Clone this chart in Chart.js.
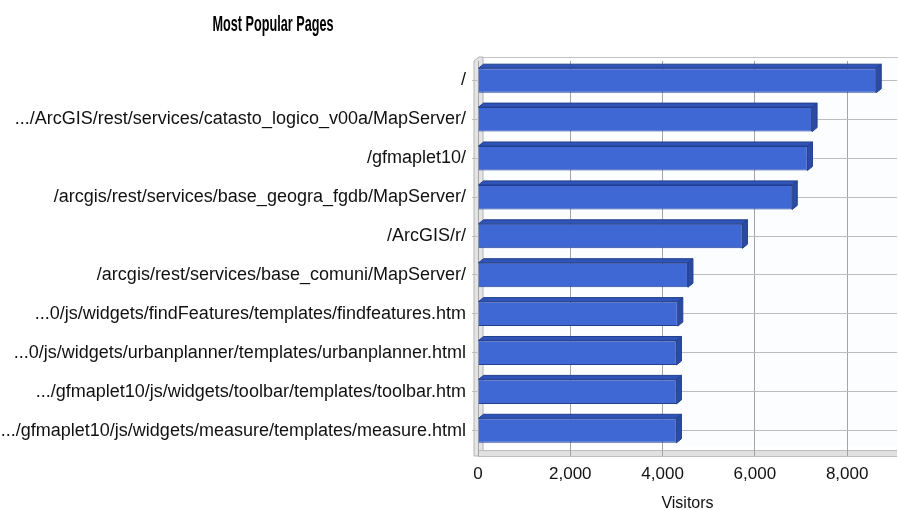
<!DOCTYPE html>
<html>
<head>
<meta charset="utf-8">
<title>Most Popular Pages</title>
<script src="https://cdn.jsdelivr.net/npm/chart.js@4.4.1/dist/chart.umd.min.js"></script>
<style>
  html, body { margin: 0; padding: 0; background: #fff; overflow: hidden; }
  #wrap { position: relative; width: 898px; height: 510px; }
</style>
</head>
<body>
<div id="wrap"><canvas id="pagesChart"></canvas></div>
<script>
// data
const pages = [
  '/',
  '.../ArcGIS/rest/services/catasto_logico_v00a/MapServer/',
  '/gfmaplet10/',
  '/arcgis/rest/services/base_geogra_fgdb/MapServer/',
  '/ArcGIS/r/',
  '/arcgis/rest/services/base_comuni/MapServer/',
  '...0/js/widgets/findFeatures/templates/findfeatures.htm',
  '...0/js/widgets/urbanplanner/templates/urbanplanner.html',
  '.../gfmaplet10/js/widgets/toolbar/templates/toolbar.htm',
  '.../gfmaplet10/js/widgets/measure/templates/measure.html'
];
const visitors = [8630, 7240, 7140, 6810, 5730, 4550, 4330, 4300, 4300, 4300];
const xTicks = [0, 2000, 4000, 6000, 8000];
const chartTitle = 'Most Popular Pages';
const axisTitle = 'Visitors';

// 3D depth of bars and walls
const DX = 5, DY = 4;
const FONT = "'Liberation Sans', Arial, sans-serif";

// back wall, left wall and floor behind the grid
const frame3d = {
  id: 'frame3d',
  beforeDraw(chart) {
    const { ctx, chartArea: a } = chart;
    ctx.save();
    ctx.fillStyle = '#fbfdff';
    ctx.fillRect(a.left + DX, a.top - DY, a.right - a.left, a.bottom - a.top);
    ctx.strokeStyle = '#c4c4c4';
    ctx.lineWidth = 1;
    ctx.beginPath();
    ctx.moveTo(a.left + DX, a.top - DY + 0.5);
    ctx.lineTo(a.right + DX, a.top - DY + 0.5);
    ctx.stroke();
    // left wall
    ctx.fillStyle = '#e4e4e4';
    ctx.beginPath();
    ctx.moveTo(a.left - 4, a.top);
    ctx.lineTo(a.left - 4 + DX, a.top - DY);
    ctx.lineTo(a.left + DX, a.top - DY);
    ctx.lineTo(a.left + DX, a.bottom + 6);
    ctx.lineTo(a.left - 4, a.bottom + 6);
    ctx.closePath();
    ctx.fill();
    ctx.strokeStyle = '#b4b4b4';
    ctx.stroke();
    // floor
    ctx.fillStyle = '#e0e0e0';
    ctx.fillRect(a.left, a.bottom, a.right - a.left, 6);
    ctx.strokeStyle = '#bdbdbd';
    ctx.beginPath();
    ctx.moveTo(a.left, a.bottom + 0.5);
    ctx.lineTo(a.right, a.bottom + 0.5);
    ctx.moveTo(a.left, a.bottom + 6.5);
    ctx.lineTo(a.right, a.bottom + 6.5);
    ctx.stroke();
    ctx.restore();
  }
};

// top and end faces of each bar
const bars3d = {
  id: 'bars3d',
  afterDatasetsDraw(chart) {
    const { ctx } = chart;
    const meta = chart.getDatasetMeta(0);
    ctx.save();
    ctx.lineWidth = 1;
    ctx.strokeStyle = '#23408f';
    meta.data.forEach(bar => {
      const { x, y, base, height } = bar.getProps(['x', 'y', 'base', 'height'], true);
      const top = y - height / 2, bottom = y + height / 2;
      ctx.fillStyle = '#2f53b6';
      ctx.beginPath();
      ctx.moveTo(base, top);
      ctx.lineTo(base + DX, top - DY);
      ctx.lineTo(x + DX, top - DY);
      ctx.lineTo(x, top);
      ctx.closePath();
      ctx.fill();
      ctx.stroke();
      ctx.fillStyle = '#2b4aa3';
      ctx.beginPath();
      ctx.moveTo(x, top);
      ctx.lineTo(x + DX, top - DY);
      ctx.lineTo(x + DX, bottom - DY);
      ctx.lineTo(x, bottom);
      ctx.closePath();
      ctx.fill();
      ctx.stroke();
    });
    ctx.restore();
  }
};

// condensed bold title, left of centre like the original
const condensedTitle = {
  id: 'condensedTitle',
  afterDraw(chart) {
    const { ctx } = chart;
    ctx.save();
    ctx.font = "bold 22px 'Liberation Sans Narrow', " + FONT;
    ctx.fillStyle = '#000';
    ctx.textAlign = 'center';
    ctx.textBaseline = 'middle';
    const w = ctx.measureText(chartTitle).width;
    const k = Math.min(1, 121 / w);
    ctx.translate(273, 25);
    ctx.scale(k, 1);
    ctx.fillText(chartTitle, 0, 0);
    ctx.restore();
  }
};

document.addEventListener('DOMContentLoaded', function() {
  const ctx = document.getElementById('pagesChart').getContext('2d');

  new Chart(ctx, {
    type: 'bar',
    data: {
      labels: pages,
      datasets: [{
        label: axisTitle,
        data: visitors,
        backgroundColor: '#4068d4',
        borderColor: '#23408f',
        borderWidth: 1,
        borderSkipped: 'left',
        barPercentage: 0.63,
        categoryPercentage: 1
      }]
    },
    options: {
      indexAxis: 'y',
      responsive: true,
      maintainAspectRatio: false,
      animation: false,
      layout: { padding: { top: 61, right: 1, left: 0, bottom: 0 } },
      plugins: {
        legend: { display: false },
        title: { display: false },
        tooltip: { enabled: false }
      },
      scales: {
        x: {
          min: 0,
          max: 9080,
          afterBuildTicks: scale => { scale.ticks = xTicks.map(v => ({ value: v })); },
          afterFit: scale => { scale.height = 60; },
          border: { display: false },
          grid: { color: '#a4a4a4', tickLength: 6 },
          ticks: {
            color: '#111',
            font: { family: FONT, size: 17 },
            padding: 8,
            maxRotation: 0,
            callback: v => v.toLocaleString('en-US')
          },
          title: {
            display: true,
            text: axisTitle,
            color: '#111',
            font: { family: FONT, size: 16, lineHeight: 1 },
            padding: { top: 0, bottom: -2 }
          }
        },
        y: {
          afterFit: scale => { scale.width = 478; },
          border: { display: false },
          grid: { offset: false, color: '#bdbdbd', tickLength: 6 },
          ticks: {
            color: '#111',
            font: { family: FONT, size: 18 },
            padding: 6
          }
        }
      }
    },
    plugins: [frame3d, bars3d, condensedTitle]
  });
});
</script>
</body>
</html>
